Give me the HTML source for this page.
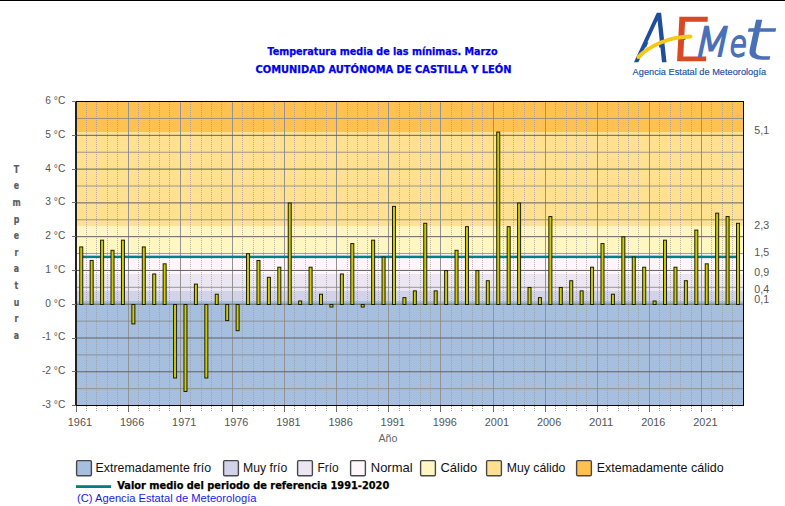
<!DOCTYPE html>
<html lang="es"><head><meta charset="utf-8"><title>Temperatura media de las mínimas. Marzo</title>
<style>html,body{margin:0;padding:0;background:#fff}body{width:785px;height:506px;overflow:hidden}svg{display:block}.ar{font-family:"Liberation Sans",sans-serif}.th{font-family:"DejaVu Sans Condensed","DejaVu Sans","Liberation Sans",sans-serif;font-weight:bold}body{position:relative}.lay{position:absolute;left:0;top:0}#aemet{position:absolute;left:0;top:0;margin:0;font-size:0;line-height:0;white-space:nowrap;font-family:"DejaVu Sans","Liberation Sans",sans-serif;font-weight:200}#aemet span{display:inline-block;position:relative;width:0;height:0;line-height:0;vertical-align:baseline;overflow:visible;transform-origin:0 0.346em}#aemet .l1{z-index:1;font-size:64.5px;color:#1f4e9c;-webkit-text-stroke:2.3px #1f4e9c;transform:translate(634.00px,39.28px) skewX(-10deg) scale(0.75,1)}#aemet .l2{z-index:1;font-size:57.5px;color:#d84a22;-webkit-text-stroke:2.6px #d84a22;transform:translate(671.00px,37.88px) skewX(-3deg) scale(1.08,1)}#aemet .l3{z-index:3;font-size:40px;color:#4a70b8;-webkit-text-stroke:2.0px #4a70b8;transform:translate(692.50px,33.68px) skewX(-12deg) scale(1.0,1)}#aemet .l4{z-index:3;font-size:35.5px;color:#4a70b8;-webkit-text-stroke:2.3px #4a70b8;transform:translate(728.50px,33.68px) skewX(-6deg) scale(0.8,1)}#aemet .l5{z-index:3;font-size:55px;color:#4a70b8;-webkit-text-stroke:1.5px #4a70b8;transform:translate(739.00px,36.68px) skewX(-12deg) scale(1.55,1)}#cover{z-index:2}#swoosh{z-index:4}</style></head><body>
<svg class="lay" width="785" height="506" viewBox="0 0 785 506">
<rect x="0" y="0" width="785" height="506" fill="#fff"/>
<rect x="0" y="0" width="785" height="1" fill="#000"/>
<g shape-rendering="crispEdges">
<rect x="77.0" y="300.79" width="666.0" height="104.71" fill="#A7BFDF"/>
<rect x="77.0" y="290.66" width="666.0" height="10.13" fill="#D2D2E8"/>
<rect x="77.0" y="273.77" width="666.0" height="16.89" fill="#EBE6F2"/>
<rect x="77.0" y="253.50" width="666.0" height="20.27" fill="#FFF6FB"/>
<rect x="77.0" y="226.48" width="666.0" height="27.02" fill="#FFF6C2"/>
<rect x="77.0" y="131.90" width="666.0" height="94.58" fill="#FFE191"/>
<rect x="77.0" y="101.50" width="666.0" height="30.40" fill="#FFC14F"/>
</g>
<g shape-rendering="crispEdges">
<line x1="86.5" y1="102.0" x2="86.5" y2="405.0" stroke="#989898" stroke-opacity="0.7" stroke-width="1" stroke-dasharray="1 1"/>
<line x1="96.5" y1="102.0" x2="96.5" y2="405.0" stroke="#989898" stroke-opacity="0.7" stroke-width="1" stroke-dasharray="1 1"/>
<line x1="107.5" y1="102.0" x2="107.5" y2="405.0" stroke="#989898" stroke-opacity="0.7" stroke-width="1" stroke-dasharray="1 1"/>
<line x1="117.5" y1="102.0" x2="117.5" y2="405.0" stroke="#989898" stroke-opacity="0.7" stroke-width="1" stroke-dasharray="1 1"/>
<rect x="128" y="102.0" width="1" height="303.0" fill="#939393"/>
<line x1="138.5" y1="102.0" x2="138.5" y2="405.0" stroke="#989898" stroke-opacity="0.7" stroke-width="1" stroke-dasharray="1 1"/>
<line x1="149.5" y1="102.0" x2="149.5" y2="405.0" stroke="#989898" stroke-opacity="0.7" stroke-width="1" stroke-dasharray="1 1"/>
<line x1="159.5" y1="102.0" x2="159.5" y2="405.0" stroke="#989898" stroke-opacity="0.7" stroke-width="1" stroke-dasharray="1 1"/>
<line x1="169.5" y1="102.0" x2="169.5" y2="405.0" stroke="#989898" stroke-opacity="0.7" stroke-width="1" stroke-dasharray="1 1"/>
<rect x="180" y="102.0" width="1" height="303.0" fill="#939393"/>
<line x1="190.5" y1="102.0" x2="190.5" y2="405.0" stroke="#989898" stroke-opacity="0.7" stroke-width="1" stroke-dasharray="1 1"/>
<line x1="201.5" y1="102.0" x2="201.5" y2="405.0" stroke="#989898" stroke-opacity="0.7" stroke-width="1" stroke-dasharray="1 1"/>
<line x1="211.5" y1="102.0" x2="211.5" y2="405.0" stroke="#989898" stroke-opacity="0.7" stroke-width="1" stroke-dasharray="1 1"/>
<line x1="221.5" y1="102.0" x2="221.5" y2="405.0" stroke="#989898" stroke-opacity="0.7" stroke-width="1" stroke-dasharray="1 1"/>
<rect x="232" y="102.0" width="1" height="303.0" fill="#939393"/>
<line x1="242.5" y1="102.0" x2="242.5" y2="405.0" stroke="#989898" stroke-opacity="0.7" stroke-width="1" stroke-dasharray="1 1"/>
<line x1="253.5" y1="102.0" x2="253.5" y2="405.0" stroke="#989898" stroke-opacity="0.7" stroke-width="1" stroke-dasharray="1 1"/>
<line x1="263.5" y1="102.0" x2="263.5" y2="405.0" stroke="#989898" stroke-opacity="0.7" stroke-width="1" stroke-dasharray="1 1"/>
<line x1="274.5" y1="102.0" x2="274.5" y2="405.0" stroke="#989898" stroke-opacity="0.7" stroke-width="1" stroke-dasharray="1 1"/>
<rect x="284" y="102.0" width="1" height="303.0" fill="#939393"/>
<line x1="294.5" y1="102.0" x2="294.5" y2="405.0" stroke="#989898" stroke-opacity="0.7" stroke-width="1" stroke-dasharray="1 1"/>
<line x1="305.5" y1="102.0" x2="305.5" y2="405.0" stroke="#989898" stroke-opacity="0.7" stroke-width="1" stroke-dasharray="1 1"/>
<line x1="315.5" y1="102.0" x2="315.5" y2="405.0" stroke="#989898" stroke-opacity="0.7" stroke-width="1" stroke-dasharray="1 1"/>
<line x1="326.5" y1="102.0" x2="326.5" y2="405.0" stroke="#989898" stroke-opacity="0.7" stroke-width="1" stroke-dasharray="1 1"/>
<rect x="336" y="102.0" width="1" height="303.0" fill="#939393"/>
<line x1="347.5" y1="102.0" x2="347.5" y2="405.0" stroke="#989898" stroke-opacity="0.7" stroke-width="1" stroke-dasharray="1 1"/>
<line x1="357.5" y1="102.0" x2="357.5" y2="405.0" stroke="#989898" stroke-opacity="0.7" stroke-width="1" stroke-dasharray="1 1"/>
<line x1="367.5" y1="102.0" x2="367.5" y2="405.0" stroke="#989898" stroke-opacity="0.7" stroke-width="1" stroke-dasharray="1 1"/>
<line x1="378.5" y1="102.0" x2="378.5" y2="405.0" stroke="#989898" stroke-opacity="0.7" stroke-width="1" stroke-dasharray="1 1"/>
<rect x="388" y="102.0" width="1" height="303.0" fill="#939393"/>
<line x1="399.5" y1="102.0" x2="399.5" y2="405.0" stroke="#989898" stroke-opacity="0.7" stroke-width="1" stroke-dasharray="1 1"/>
<line x1="409.5" y1="102.0" x2="409.5" y2="405.0" stroke="#989898" stroke-opacity="0.7" stroke-width="1" stroke-dasharray="1 1"/>
<line x1="420.5" y1="102.0" x2="420.5" y2="405.0" stroke="#989898" stroke-opacity="0.7" stroke-width="1" stroke-dasharray="1 1"/>
<line x1="430.5" y1="102.0" x2="430.5" y2="405.0" stroke="#989898" stroke-opacity="0.7" stroke-width="1" stroke-dasharray="1 1"/>
<rect x="440" y="102.0" width="1" height="303.0" fill="#939393"/>
<line x1="451.5" y1="102.0" x2="451.5" y2="405.0" stroke="#989898" stroke-opacity="0.7" stroke-width="1" stroke-dasharray="1 1"/>
<line x1="461.5" y1="102.0" x2="461.5" y2="405.0" stroke="#989898" stroke-opacity="0.7" stroke-width="1" stroke-dasharray="1 1"/>
<line x1="472.5" y1="102.0" x2="472.5" y2="405.0" stroke="#989898" stroke-opacity="0.7" stroke-width="1" stroke-dasharray="1 1"/>
<line x1="482.5" y1="102.0" x2="482.5" y2="405.0" stroke="#989898" stroke-opacity="0.7" stroke-width="1" stroke-dasharray="1 1"/>
<rect x="493" y="102.0" width="1" height="303.0" fill="#939393"/>
<line x1="503.5" y1="102.0" x2="503.5" y2="405.0" stroke="#989898" stroke-opacity="0.7" stroke-width="1" stroke-dasharray="1 1"/>
<line x1="513.5" y1="102.0" x2="513.5" y2="405.0" stroke="#989898" stroke-opacity="0.7" stroke-width="1" stroke-dasharray="1 1"/>
<line x1="524.5" y1="102.0" x2="524.5" y2="405.0" stroke="#989898" stroke-opacity="0.7" stroke-width="1" stroke-dasharray="1 1"/>
<line x1="534.5" y1="102.0" x2="534.5" y2="405.0" stroke="#989898" stroke-opacity="0.7" stroke-width="1" stroke-dasharray="1 1"/>
<rect x="545" y="102.0" width="1" height="303.0" fill="#939393"/>
<line x1="555.5" y1="102.0" x2="555.5" y2="405.0" stroke="#989898" stroke-opacity="0.7" stroke-width="1" stroke-dasharray="1 1"/>
<line x1="566.5" y1="102.0" x2="566.5" y2="405.0" stroke="#989898" stroke-opacity="0.7" stroke-width="1" stroke-dasharray="1 1"/>
<line x1="576.5" y1="102.0" x2="576.5" y2="405.0" stroke="#989898" stroke-opacity="0.7" stroke-width="1" stroke-dasharray="1 1"/>
<line x1="586.5" y1="102.0" x2="586.5" y2="405.0" stroke="#989898" stroke-opacity="0.7" stroke-width="1" stroke-dasharray="1 1"/>
<rect x="597" y="102.0" width="1" height="303.0" fill="#939393"/>
<line x1="607.5" y1="102.0" x2="607.5" y2="405.0" stroke="#989898" stroke-opacity="0.7" stroke-width="1" stroke-dasharray="1 1"/>
<line x1="618.5" y1="102.0" x2="618.5" y2="405.0" stroke="#989898" stroke-opacity="0.7" stroke-width="1" stroke-dasharray="1 1"/>
<line x1="628.5" y1="102.0" x2="628.5" y2="405.0" stroke="#989898" stroke-opacity="0.7" stroke-width="1" stroke-dasharray="1 1"/>
<line x1="638.5" y1="102.0" x2="638.5" y2="405.0" stroke="#989898" stroke-opacity="0.7" stroke-width="1" stroke-dasharray="1 1"/>
<rect x="649" y="102.0" width="1" height="303.0" fill="#939393"/>
<line x1="659.5" y1="102.0" x2="659.5" y2="405.0" stroke="#989898" stroke-opacity="0.7" stroke-width="1" stroke-dasharray="1 1"/>
<line x1="670.5" y1="102.0" x2="670.5" y2="405.0" stroke="#989898" stroke-opacity="0.7" stroke-width="1" stroke-dasharray="1 1"/>
<line x1="680.5" y1="102.0" x2="680.5" y2="405.0" stroke="#989898" stroke-opacity="0.7" stroke-width="1" stroke-dasharray="1 1"/>
<line x1="691.5" y1="102.0" x2="691.5" y2="405.0" stroke="#989898" stroke-opacity="0.7" stroke-width="1" stroke-dasharray="1 1"/>
<rect x="701" y="102.0" width="1" height="303.0" fill="#939393"/>
<line x1="711.5" y1="102.0" x2="711.5" y2="405.0" stroke="#989898" stroke-opacity="0.7" stroke-width="1" stroke-dasharray="1 1"/>
<line x1="722.5" y1="102.0" x2="722.5" y2="405.0" stroke="#989898" stroke-opacity="0.7" stroke-width="1" stroke-dasharray="1 1"/>
<line x1="732.5" y1="102.0" x2="732.5" y2="405.0" stroke="#989898" stroke-opacity="0.7" stroke-width="1" stroke-dasharray="1 1"/>
</g>
<g>
<rect x="77.0" y="388.16" width="666.0" height="1" fill="#8a8a8a" fill-opacity="0.85"/>
<rect x="77.0" y="371.27" width="666.0" height="1" fill="#626262"/>
<rect x="77.0" y="354.38" width="666.0" height="1" fill="#8a8a8a" fill-opacity="0.85"/>
<rect x="77.0" y="337.49" width="666.0" height="1" fill="#626262"/>
<rect x="77.0" y="320.61" width="666.0" height="1" fill="#8a8a8a" fill-opacity="0.85"/>
<rect x="77.0" y="303.72" width="666.0" height="1" fill="#626262"/>
<rect x="77.0" y="286.83" width="666.0" height="1" fill="#8a8a8a" fill-opacity="0.85"/>
<rect x="77.0" y="269.94" width="666.0" height="1" fill="#626262"/>
<rect x="77.0" y="253.05" width="666.0" height="1" fill="#8a8a8a" fill-opacity="0.85"/>
<rect x="77.0" y="236.16" width="666.0" height="1" fill="#626262"/>
<rect x="77.0" y="219.27" width="666.0" height="1" fill="#8a8a8a" fill-opacity="0.85"/>
<rect x="77.0" y="202.38" width="666.0" height="1" fill="#626262"/>
<rect x="77.0" y="185.49" width="666.0" height="1" fill="#8a8a8a" fill-opacity="0.85"/>
<rect x="77.0" y="168.61" width="666.0" height="1" fill="#626262"/>
<rect x="77.0" y="151.72" width="666.0" height="1" fill="#8a8a8a" fill-opacity="0.85"/>
<rect x="77.0" y="134.83" width="666.0" height="1" fill="#626262"/>
<rect x="77.0" y="117.94" width="666.0" height="1" fill="#8a8a8a" fill-opacity="0.85"/>
</g>
<rect x="81.24" y="255.63" width="656.78" height="2.5" fill="#008080"/>
<defs><linearGradient id="bg" x1="0" y1="0" x2="1" y2="0"><stop offset="0" stop-color="#d8d800"/><stop offset="1" stop-color="#c0c000"/></linearGradient></defs>
<rect x="79.74" y="246.94" width="3" height="57.56" fill="url(#bg)" stroke="#1c1c00" stroke-width="1"/>
<rect x="90.17" y="260.46" width="3" height="44.04" fill="url(#bg)" stroke="#1c1c00" stroke-width="1"/>
<rect x="100.59" y="240.19" width="3" height="64.31" fill="url(#bg)" stroke="#1c1c00" stroke-width="1"/>
<rect x="111.02" y="250.32" width="3" height="54.18" fill="url(#bg)" stroke="#1c1c00" stroke-width="1"/>
<rect x="121.44" y="240.19" width="3" height="64.31" fill="url(#bg)" stroke="#1c1c00" stroke-width="1"/>
<rect x="131.87" y="304.50" width="3" height="19.43" fill="url(#bg)" stroke="#1c1c00" stroke-width="1"/>
<rect x="142.29" y="246.94" width="3" height="57.56" fill="url(#bg)" stroke="#1c1c00" stroke-width="1"/>
<rect x="152.72" y="273.97" width="3" height="30.53" fill="url(#bg)" stroke="#1c1c00" stroke-width="1"/>
<rect x="163.14" y="263.83" width="3" height="40.67" fill="url(#bg)" stroke="#1c1c00" stroke-width="1"/>
<rect x="173.57" y="304.50" width="3" height="73.48" fill="url(#bg)" stroke="#1c1c00" stroke-width="1"/>
<rect x="183.99" y="304.50" width="3" height="86.99" fill="url(#bg)" stroke="#1c1c00" stroke-width="1"/>
<rect x="194.42" y="284.10" width="3" height="20.40" fill="url(#bg)" stroke="#1c1c00" stroke-width="1"/>
<rect x="204.84" y="304.50" width="3" height="73.48" fill="url(#bg)" stroke="#1c1c00" stroke-width="1"/>
<rect x="215.27" y="294.23" width="3" height="10.27" fill="url(#bg)" stroke="#1c1c00" stroke-width="1"/>
<rect x="225.69" y="304.50" width="3" height="16.06" fill="url(#bg)" stroke="#1c1c00" stroke-width="1"/>
<rect x="236.12" y="304.50" width="3" height="26.19" fill="url(#bg)" stroke="#1c1c00" stroke-width="1"/>
<rect x="246.54" y="253.70" width="3" height="50.80" fill="url(#bg)" stroke="#1c1c00" stroke-width="1"/>
<rect x="256.97" y="260.46" width="3" height="44.04" fill="url(#bg)" stroke="#1c1c00" stroke-width="1"/>
<rect x="267.39" y="277.34" width="3" height="27.16" fill="url(#bg)" stroke="#1c1c00" stroke-width="1"/>
<rect x="277.82" y="267.21" width="3" height="37.29" fill="url(#bg)" stroke="#1c1c00" stroke-width="1"/>
<rect x="288.24" y="203.03" width="3" height="101.47" fill="url(#bg)" stroke="#1c1c00" stroke-width="1"/>
<rect x="298.67" y="300.99" width="3" height="3.51" fill="url(#bg)" stroke="#1c1c00" stroke-width="1"/>
<rect x="309.09" y="267.21" width="3" height="37.29" fill="url(#bg)" stroke="#1c1c00" stroke-width="1"/>
<rect x="319.52" y="294.23" width="3" height="10.27" fill="url(#bg)" stroke="#1c1c00" stroke-width="1"/>
<rect x="329.94" y="304.50" width="3" height="2.54" fill="url(#bg)" stroke="#1c1c00" stroke-width="1"/>
<rect x="340.37" y="273.97" width="3" height="30.53" fill="url(#bg)" stroke="#1c1c00" stroke-width="1"/>
<rect x="350.79" y="243.57" width="3" height="60.93" fill="url(#bg)" stroke="#1c1c00" stroke-width="1"/>
<rect x="361.22" y="304.50" width="3" height="2.54" fill="url(#bg)" stroke="#1c1c00" stroke-width="1"/>
<rect x="371.64" y="240.19" width="3" height="64.31" fill="url(#bg)" stroke="#1c1c00" stroke-width="1"/>
<rect x="382.07" y="257.08" width="3" height="47.42" fill="url(#bg)" stroke="#1c1c00" stroke-width="1"/>
<rect x="392.49" y="206.41" width="3" height="98.09" fill="url(#bg)" stroke="#1c1c00" stroke-width="1"/>
<rect x="402.92" y="297.61" width="3" height="6.89" fill="url(#bg)" stroke="#1c1c00" stroke-width="1"/>
<rect x="413.34" y="290.86" width="3" height="13.64" fill="url(#bg)" stroke="#1c1c00" stroke-width="1"/>
<rect x="423.77" y="223.30" width="3" height="81.20" fill="url(#bg)" stroke="#1c1c00" stroke-width="1"/>
<rect x="434.19" y="290.86" width="3" height="13.64" fill="url(#bg)" stroke="#1c1c00" stroke-width="1"/>
<rect x="444.62" y="270.59" width="3" height="33.91" fill="url(#bg)" stroke="#1c1c00" stroke-width="1"/>
<rect x="455.04" y="250.32" width="3" height="54.18" fill="url(#bg)" stroke="#1c1c00" stroke-width="1"/>
<rect x="465.47" y="226.68" width="3" height="77.82" fill="url(#bg)" stroke="#1c1c00" stroke-width="1"/>
<rect x="475.89" y="270.59" width="3" height="33.91" fill="url(#bg)" stroke="#1c1c00" stroke-width="1"/>
<rect x="486.32" y="280.72" width="3" height="23.78" fill="url(#bg)" stroke="#1c1c00" stroke-width="1"/>
<rect x="496.74" y="132.10" width="3" height="172.40" fill="url(#bg)" stroke="#1c1c00" stroke-width="1"/>
<rect x="507.17" y="226.68" width="3" height="77.82" fill="url(#bg)" stroke="#1c1c00" stroke-width="1"/>
<rect x="517.59" y="203.03" width="3" height="101.47" fill="url(#bg)" stroke="#1c1c00" stroke-width="1"/>
<rect x="528.02" y="287.48" width="3" height="17.02" fill="url(#bg)" stroke="#1c1c00" stroke-width="1"/>
<rect x="538.44" y="297.61" width="3" height="6.89" fill="url(#bg)" stroke="#1c1c00" stroke-width="1"/>
<rect x="548.87" y="216.54" width="3" height="87.96" fill="url(#bg)" stroke="#1c1c00" stroke-width="1"/>
<rect x="559.29" y="287.48" width="3" height="17.02" fill="url(#bg)" stroke="#1c1c00" stroke-width="1"/>
<rect x="569.72" y="280.72" width="3" height="23.78" fill="url(#bg)" stroke="#1c1c00" stroke-width="1"/>
<rect x="580.14" y="290.86" width="3" height="13.64" fill="url(#bg)" stroke="#1c1c00" stroke-width="1"/>
<rect x="590.57" y="267.21" width="3" height="37.29" fill="url(#bg)" stroke="#1c1c00" stroke-width="1"/>
<rect x="600.99" y="243.57" width="3" height="60.93" fill="url(#bg)" stroke="#1c1c00" stroke-width="1"/>
<rect x="611.42" y="294.23" width="3" height="10.27" fill="url(#bg)" stroke="#1c1c00" stroke-width="1"/>
<rect x="621.84" y="236.81" width="3" height="67.69" fill="url(#bg)" stroke="#1c1c00" stroke-width="1"/>
<rect x="632.27" y="257.08" width="3" height="47.42" fill="url(#bg)" stroke="#1c1c00" stroke-width="1"/>
<rect x="642.69" y="267.21" width="3" height="37.29" fill="url(#bg)" stroke="#1c1c00" stroke-width="1"/>
<rect x="653.12" y="300.99" width="3" height="3.51" fill="url(#bg)" stroke="#1c1c00" stroke-width="1"/>
<rect x="663.54" y="240.19" width="3" height="64.31" fill="url(#bg)" stroke="#1c1c00" stroke-width="1"/>
<rect x="673.97" y="267.21" width="3" height="37.29" fill="url(#bg)" stroke="#1c1c00" stroke-width="1"/>
<rect x="684.39" y="280.72" width="3" height="23.78" fill="url(#bg)" stroke="#1c1c00" stroke-width="1"/>
<rect x="694.82" y="230.06" width="3" height="74.44" fill="url(#bg)" stroke="#1c1c00" stroke-width="1"/>
<rect x="705.24" y="263.83" width="3" height="40.67" fill="url(#bg)" stroke="#1c1c00" stroke-width="1"/>
<rect x="715.67" y="213.17" width="3" height="91.33" fill="url(#bg)" stroke="#1c1c00" stroke-width="1"/>
<rect x="726.09" y="216.54" width="3" height="87.96" fill="url(#bg)" stroke="#1c1c00" stroke-width="1"/>
<rect x="736.52" y="223.30" width="3" height="81.20" fill="url(#bg)" stroke="#1c1c00" stroke-width="1"/>
<g shape-rendering="crispEdges">
<rect x="75.1" y="101.0" width="1.8" height="305.0" fill="#0a0a0a" shape-rendering="auto"/>
<rect x="76.0" y="101.0" width="668.0" height="1" fill="#000"/>
<rect x="76.0" y="405.0" width="668.0" height="1" fill="#000"/>
<rect x="743.0" y="101.0" width="1" height="305.0" fill="#000"/>
<rect x="72" y="405" width="3.5" height="1" fill="#707070"/>
<rect x="72" y="371" width="3.5" height="1" fill="#707070"/>
<rect x="72" y="338" width="3.5" height="1" fill="#707070"/>
<rect x="72" y="304" width="3.5" height="1" fill="#707070"/>
<rect x="72" y="270" width="3.5" height="1" fill="#707070"/>
<rect x="72" y="236" width="3.5" height="1" fill="#707070"/>
<rect x="72" y="202" width="3.5" height="1" fill="#707070"/>
<rect x="72" y="169" width="3.5" height="1" fill="#707070"/>
<rect x="72" y="135" width="3.5" height="1" fill="#707070"/>
<rect x="72" y="101" width="3.5" height="1" fill="#707070"/>
<rect x="76" y="406.0" width="1" height="6" fill="#707070"/>
<line x1="86.5" y1="406.0" x2="86.5" y2="411.0" stroke="#a0a0a0" stroke-width="1" stroke-dasharray="1 1"/>
<line x1="96.5" y1="406.0" x2="96.5" y2="411.0" stroke="#a0a0a0" stroke-width="1" stroke-dasharray="1 1"/>
<line x1="107.5" y1="406.0" x2="107.5" y2="411.0" stroke="#a0a0a0" stroke-width="1" stroke-dasharray="1 1"/>
<line x1="117.5" y1="406.0" x2="117.5" y2="411.0" stroke="#a0a0a0" stroke-width="1" stroke-dasharray="1 1"/>
<rect x="128" y="406.0" width="1" height="6" fill="#707070"/>
<line x1="138.5" y1="406.0" x2="138.5" y2="411.0" stroke="#a0a0a0" stroke-width="1" stroke-dasharray="1 1"/>
<line x1="149.5" y1="406.0" x2="149.5" y2="411.0" stroke="#a0a0a0" stroke-width="1" stroke-dasharray="1 1"/>
<line x1="159.5" y1="406.0" x2="159.5" y2="411.0" stroke="#a0a0a0" stroke-width="1" stroke-dasharray="1 1"/>
<line x1="169.5" y1="406.0" x2="169.5" y2="411.0" stroke="#a0a0a0" stroke-width="1" stroke-dasharray="1 1"/>
<rect x="180" y="406.0" width="1" height="6" fill="#707070"/>
<line x1="190.5" y1="406.0" x2="190.5" y2="411.0" stroke="#a0a0a0" stroke-width="1" stroke-dasharray="1 1"/>
<line x1="201.5" y1="406.0" x2="201.5" y2="411.0" stroke="#a0a0a0" stroke-width="1" stroke-dasharray="1 1"/>
<line x1="211.5" y1="406.0" x2="211.5" y2="411.0" stroke="#a0a0a0" stroke-width="1" stroke-dasharray="1 1"/>
<line x1="221.5" y1="406.0" x2="221.5" y2="411.0" stroke="#a0a0a0" stroke-width="1" stroke-dasharray="1 1"/>
<rect x="232" y="406.0" width="1" height="6" fill="#707070"/>
<line x1="242.5" y1="406.0" x2="242.5" y2="411.0" stroke="#a0a0a0" stroke-width="1" stroke-dasharray="1 1"/>
<line x1="253.5" y1="406.0" x2="253.5" y2="411.0" stroke="#a0a0a0" stroke-width="1" stroke-dasharray="1 1"/>
<line x1="263.5" y1="406.0" x2="263.5" y2="411.0" stroke="#a0a0a0" stroke-width="1" stroke-dasharray="1 1"/>
<line x1="274.5" y1="406.0" x2="274.5" y2="411.0" stroke="#a0a0a0" stroke-width="1" stroke-dasharray="1 1"/>
<rect x="284" y="406.0" width="1" height="6" fill="#707070"/>
<line x1="294.5" y1="406.0" x2="294.5" y2="411.0" stroke="#a0a0a0" stroke-width="1" stroke-dasharray="1 1"/>
<line x1="305.5" y1="406.0" x2="305.5" y2="411.0" stroke="#a0a0a0" stroke-width="1" stroke-dasharray="1 1"/>
<line x1="315.5" y1="406.0" x2="315.5" y2="411.0" stroke="#a0a0a0" stroke-width="1" stroke-dasharray="1 1"/>
<line x1="326.5" y1="406.0" x2="326.5" y2="411.0" stroke="#a0a0a0" stroke-width="1" stroke-dasharray="1 1"/>
<rect x="336" y="406.0" width="1" height="6" fill="#707070"/>
<line x1="347.5" y1="406.0" x2="347.5" y2="411.0" stroke="#a0a0a0" stroke-width="1" stroke-dasharray="1 1"/>
<line x1="357.5" y1="406.0" x2="357.5" y2="411.0" stroke="#a0a0a0" stroke-width="1" stroke-dasharray="1 1"/>
<line x1="367.5" y1="406.0" x2="367.5" y2="411.0" stroke="#a0a0a0" stroke-width="1" stroke-dasharray="1 1"/>
<line x1="378.5" y1="406.0" x2="378.5" y2="411.0" stroke="#a0a0a0" stroke-width="1" stroke-dasharray="1 1"/>
<rect x="388" y="406.0" width="1" height="6" fill="#707070"/>
<line x1="399.5" y1="406.0" x2="399.5" y2="411.0" stroke="#a0a0a0" stroke-width="1" stroke-dasharray="1 1"/>
<line x1="409.5" y1="406.0" x2="409.5" y2="411.0" stroke="#a0a0a0" stroke-width="1" stroke-dasharray="1 1"/>
<line x1="420.5" y1="406.0" x2="420.5" y2="411.0" stroke="#a0a0a0" stroke-width="1" stroke-dasharray="1 1"/>
<line x1="430.5" y1="406.0" x2="430.5" y2="411.0" stroke="#a0a0a0" stroke-width="1" stroke-dasharray="1 1"/>
<rect x="440" y="406.0" width="1" height="6" fill="#707070"/>
<line x1="451.5" y1="406.0" x2="451.5" y2="411.0" stroke="#a0a0a0" stroke-width="1" stroke-dasharray="1 1"/>
<line x1="461.5" y1="406.0" x2="461.5" y2="411.0" stroke="#a0a0a0" stroke-width="1" stroke-dasharray="1 1"/>
<line x1="472.5" y1="406.0" x2="472.5" y2="411.0" stroke="#a0a0a0" stroke-width="1" stroke-dasharray="1 1"/>
<line x1="482.5" y1="406.0" x2="482.5" y2="411.0" stroke="#a0a0a0" stroke-width="1" stroke-dasharray="1 1"/>
<rect x="493" y="406.0" width="1" height="6" fill="#707070"/>
<line x1="503.5" y1="406.0" x2="503.5" y2="411.0" stroke="#a0a0a0" stroke-width="1" stroke-dasharray="1 1"/>
<line x1="513.5" y1="406.0" x2="513.5" y2="411.0" stroke="#a0a0a0" stroke-width="1" stroke-dasharray="1 1"/>
<line x1="524.5" y1="406.0" x2="524.5" y2="411.0" stroke="#a0a0a0" stroke-width="1" stroke-dasharray="1 1"/>
<line x1="534.5" y1="406.0" x2="534.5" y2="411.0" stroke="#a0a0a0" stroke-width="1" stroke-dasharray="1 1"/>
<rect x="545" y="406.0" width="1" height="6" fill="#707070"/>
<line x1="555.5" y1="406.0" x2="555.5" y2="411.0" stroke="#a0a0a0" stroke-width="1" stroke-dasharray="1 1"/>
<line x1="566.5" y1="406.0" x2="566.5" y2="411.0" stroke="#a0a0a0" stroke-width="1" stroke-dasharray="1 1"/>
<line x1="576.5" y1="406.0" x2="576.5" y2="411.0" stroke="#a0a0a0" stroke-width="1" stroke-dasharray="1 1"/>
<line x1="586.5" y1="406.0" x2="586.5" y2="411.0" stroke="#a0a0a0" stroke-width="1" stroke-dasharray="1 1"/>
<rect x="597" y="406.0" width="1" height="6" fill="#707070"/>
<line x1="607.5" y1="406.0" x2="607.5" y2="411.0" stroke="#a0a0a0" stroke-width="1" stroke-dasharray="1 1"/>
<line x1="618.5" y1="406.0" x2="618.5" y2="411.0" stroke="#a0a0a0" stroke-width="1" stroke-dasharray="1 1"/>
<line x1="628.5" y1="406.0" x2="628.5" y2="411.0" stroke="#a0a0a0" stroke-width="1" stroke-dasharray="1 1"/>
<line x1="638.5" y1="406.0" x2="638.5" y2="411.0" stroke="#a0a0a0" stroke-width="1" stroke-dasharray="1 1"/>
<rect x="649" y="406.0" width="1" height="6" fill="#707070"/>
<line x1="659.5" y1="406.0" x2="659.5" y2="411.0" stroke="#a0a0a0" stroke-width="1" stroke-dasharray="1 1"/>
<line x1="670.5" y1="406.0" x2="670.5" y2="411.0" stroke="#a0a0a0" stroke-width="1" stroke-dasharray="1 1"/>
<line x1="680.5" y1="406.0" x2="680.5" y2="411.0" stroke="#a0a0a0" stroke-width="1" stroke-dasharray="1 1"/>
<line x1="691.5" y1="406.0" x2="691.5" y2="411.0" stroke="#a0a0a0" stroke-width="1" stroke-dasharray="1 1"/>
<rect x="701" y="406.0" width="1" height="6" fill="#707070"/>
<line x1="711.5" y1="406.0" x2="711.5" y2="411.0" stroke="#a0a0a0" stroke-width="1" stroke-dasharray="1 1"/>
<line x1="722.5" y1="406.0" x2="722.5" y2="411.0" stroke="#a0a0a0" stroke-width="1" stroke-dasharray="1 1"/>
<line x1="732.5" y1="406.0" x2="732.5" y2="411.0" stroke="#a0a0a0" stroke-width="1" stroke-dasharray="1 1"/>
</g>
<g class="ar" font-size="10.67" fill="#555" text-anchor="end">
<text x="65.3" y="408.0" textLength="23.4" lengthAdjust="spacingAndGlyphs">-3 °C</text>
<text x="65.3" y="374.2" textLength="23.4" lengthAdjust="spacingAndGlyphs">-2 °C</text>
<text x="65.3" y="340.4" textLength="23.4" lengthAdjust="spacingAndGlyphs">-1 °C</text>
<text x="65.3" y="306.7" textLength="20.0" lengthAdjust="spacingAndGlyphs">0 °C</text>
<text x="65.3" y="272.9" textLength="20.0" lengthAdjust="spacingAndGlyphs">1 °C</text>
<text x="65.3" y="239.1" textLength="20.0" lengthAdjust="spacingAndGlyphs">2 °C</text>
<text x="65.3" y="205.3" textLength="20.0" lengthAdjust="spacingAndGlyphs">3 °C</text>
<text x="65.3" y="171.6" textLength="20.0" lengthAdjust="spacingAndGlyphs">4 °C</text>
<text x="65.3" y="137.8" textLength="20.0" lengthAdjust="spacingAndGlyphs">5 °C</text>
<text x="65.3" y="104.0" textLength="20.0" lengthAdjust="spacingAndGlyphs">6 °C</text>
</g>
<g class="ar" font-size="10.67" fill="#555">
<text x="754.3" y="134.0">5,1</text>
<text x="754.3" y="228.6">2,3</text>
<text x="754.3" y="255.6">1,5</text>
<text x="754.3" y="275.9">0,9</text>
<text x="754.3" y="292.8">0,4</text>
<text x="754.3" y="302.9">0,1</text>
</g>
<g class="ar" font-size="10.67" fill="#555">
<text x="67.8" y="426" textLength="24.2" lengthAdjust="spacingAndGlyphs">1961</text>
<text x="120.0" y="426" textLength="24.2" lengthAdjust="spacingAndGlyphs">1966</text>
<text x="172.1" y="426" textLength="24.2" lengthAdjust="spacingAndGlyphs">1971</text>
<text x="224.2" y="426" textLength="24.2" lengthAdjust="spacingAndGlyphs">1976</text>
<text x="276.3" y="426" textLength="24.2" lengthAdjust="spacingAndGlyphs">1981</text>
<text x="328.5" y="426" textLength="24.2" lengthAdjust="spacingAndGlyphs">1986</text>
<text x="380.6" y="426" textLength="24.2" lengthAdjust="spacingAndGlyphs">1991</text>
<text x="432.7" y="426" textLength="24.2" lengthAdjust="spacingAndGlyphs">1996</text>
<text x="484.8" y="426" textLength="24.2" lengthAdjust="spacingAndGlyphs">2001</text>
<text x="537.0" y="426" textLength="24.2" lengthAdjust="spacingAndGlyphs">2006</text>
<text x="589.1" y="426" textLength="24.2" lengthAdjust="spacingAndGlyphs">2011</text>
<text x="641.2" y="426" textLength="24.2" lengthAdjust="spacingAndGlyphs">2016</text>
<text x="693.3" y="426" textLength="24.2" lengthAdjust="spacingAndGlyphs">2021</text>
<text x="378.5" y="441.8" fill="#666">Año</text>
</g>
<text class="th" font-size="10.4" fill="#5c5c5c" stroke="#5c5c5c" stroke-width="0.2" text-anchor="middle" transform="scale(0.84,1)" x="19.64 19.64 19.64 19.64 19.64 19.64 19.64 19.64 19.64 19.64 19.64" y="172.8 189.4 206.0 222.6 239.2 255.8 272.4 289.0 305.6 322.2 338.8">Temperatura</text>
<g class="th" font-size="10.9" fill="#0000ee" stroke="#0000ee" stroke-width="0.25">
<text x="267.5" y="55.3" textLength="230" lengthAdjust="spacingAndGlyphs">Temperatura media de las mínimas. Marzo</text>
<text x="255.5" y="73.4" textLength="256" lengthAdjust="spacingAndGlyphs">COMUNIDAD AUTÓNOMA DE CASTILLA Y LEÓN</text>
</g>
<g class="ar" font-size="12.4" fill="#111">
<rect x="76.6" y="460.6" width="14.8" height="15.2" rx="1.2" ry="1.2" fill="#A7BFDF" stroke="#484848" stroke-width="1.4"/>
<text x="95.6" y="472.4" textLength="115.5" lengthAdjust="spacingAndGlyphs">Extremadamente frío</text>
<rect x="223.6" y="460.6" width="14.8" height="15.2" rx="1.2" ry="1.2" fill="#D2D2E8" stroke="#484848" stroke-width="1.4"/>
<text x="243.1" y="472.4" textLength="44.1" lengthAdjust="spacingAndGlyphs">Muy frío</text>
<rect x="297.6" y="460.6" width="14.8" height="15.2" rx="1.2" ry="1.2" fill="#EBE6F2" stroke="#484848" stroke-width="1.4"/>
<text x="317.5" y="472.4" textLength="21.2" lengthAdjust="spacingAndGlyphs">Frío</text>
<rect x="350.6" y="460.6" width="14.8" height="15.2" rx="1.2" ry="1.2" fill="#FFF6FB" stroke="#484848" stroke-width="1.4"/>
<text x="370.8" y="472.4" textLength="41.8" lengthAdjust="spacingAndGlyphs">Normal</text>
<rect x="420.6" y="460.6" width="14.8" height="15.2" rx="1.2" ry="1.2" fill="#FFF6C2" stroke="#484848" stroke-width="1.4"/>
<text x="440.5" y="472.4" textLength="36.8" lengthAdjust="spacingAndGlyphs">Cálido</text>
<rect x="486.6" y="460.6" width="14.8" height="15.2" rx="1.2" ry="1.2" fill="#FFE191" stroke="#484848" stroke-width="1.4"/>
<text x="506.7" y="472.4" textLength="58.7" lengthAdjust="spacingAndGlyphs">Muy cálido</text>
<rect x="576.6" y="460.6" width="14.8" height="15.2" rx="1.2" ry="1.2" fill="#FFC14F" stroke="#484848" stroke-width="1.4"/>
<text x="596.7" y="472.4" textLength="126.9" lengthAdjust="spacingAndGlyphs">Extemadamente cálido</text>
</g>
<rect x="76" y="485.2" width="35" height="2.8" fill="#008080"/>
<text class="th" font-size="10.9" fill="#000" stroke="#000" stroke-width="0.25" x="117.3" y="489.4" textLength="272" lengthAdjust="spacingAndGlyphs">Valor medio del periodo de referencia 1991-2020</text>
<text class="ar" font-size="11" fill="#1818ee" x="77" y="501.7" textLength="179.5" lengthAdjust="spacingAndGlyphs">(C) Agencia Estatal de Meteorología</text>
<text class="ar" x="632.6" y="74.9" font-size="9.6" fill="#204f9e" stroke="#204f9e" stroke-width="0.15" textLength="133.5" lengthAdjust="spacingAndGlyphs">Agencia Estatal de Meteorología</text>

</svg>
<p id="aemet"><span class="l1">A</span><span class="l2">E</span><span class="l3">M</span><span class="l4">e</span><span class="l5">t</span></p>
<svg id="cover" class="lay" width="785" height="90" viewBox="0 0 785 90"><polygon points="641.5,58 656,25 660.7,58" fill="#fff"/><rect x="685.5" y="22.8" width="30" height="32.4" fill="#fff"/></svg>
<svg id="swoosh" class="lay" width="785" height="90" viewBox="0 0 785 90"><path d="M638.5,57 C648,47 668,36.5 690.5,36.5" fill="none" stroke="#f7c815" stroke-width="4" stroke-linecap="round"/></svg>

</body></html>
